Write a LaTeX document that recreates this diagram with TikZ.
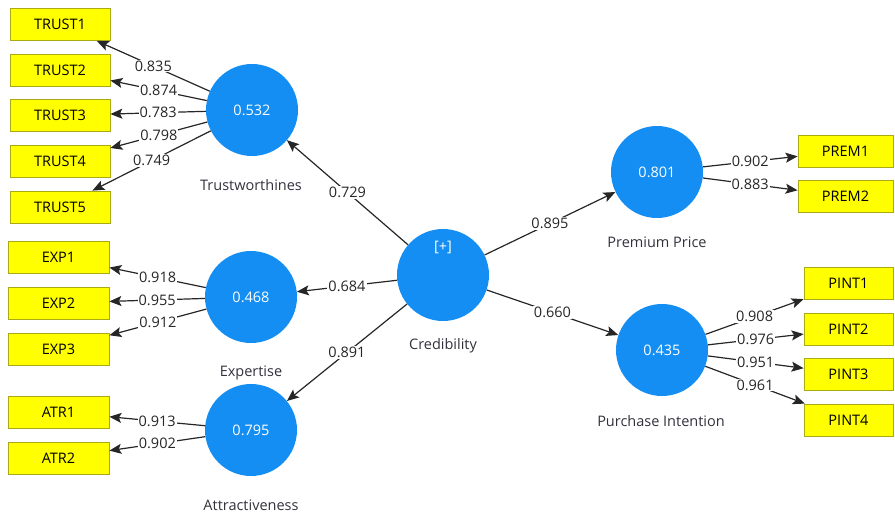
\documentclass[tikz,border=0pt]{standalone}
\usepackage{fontspec}
\setmainfont{Open Sans}
\usetikzlibrary{arrows.meta}
\definecolor{lvblue}{RGB}{20,142,242}
\definecolor{boxyellow}{RGB}{255,255,0}
\definecolor{boxborder}{RGB}{170,170,20}
\definecolor{lbl}{RGB}{50,50,60}
\begin{document}
\begin{tikzpicture}[x=1pt,y=-1pt,
  font=\fontsize{14.5}{16}\selectfont,
  lv/.style={circle,fill=lvblue,draw=none,minimum size=92pt,inner sep=0pt,text=white},
  ind/.style={rectangle,fill=boxyellow,draw=boxborder,line width=0.8pt,minimum height=32pt,inner sep=0pt,text=black},
  conn/.style={draw=black!85,line width=1.2pt,-{Stealth[length=12pt,width=10pt,inset=2.5pt]}},
  wt/.style={fill=white,inner sep=1pt,text=black!85},
  lvcap/.style={text=lbl}]
\useasboundingbox (0,0) rectangle (895,515);
% latent variables
\node[lv] (tru) at (252,110) {0.532};
\node[lv] (exp) at (251,297) {0.468};
\node[lv] (atr) at (251,430) {0.795};
\node[lv] (cre) at (443,275) {};
\node[lv] (pre) at (657,172) {0.801};
\node[lv] (pin) at (662,350) {0.435};
\node[text=white] (plus) at (443,247) {[+]};
% captions
\node[lvcap] (ctru) at (251,185) {Trustworthines};
\node[lvcap] (cexp) at (251,373) {Expertise};
\node[lvcap] (catr) at (251,505) {Attractiveness};
\node[lvcap] (ccre) at (443,346) {Credibility};
\node[lvcap] (cpre) at (657,242) {Premium Price};
\node[lvcap] (cpin) at (661,421) {Purchase Intention};
% indicators
\node[ind,minimum width=100pt] (t1) at (60,24.5) {TRUST1};
\node[ind,minimum width=100pt] (t2) at (60,70) {TRUST2};
\node[ind,minimum width=100pt] (t3) at (60,115.5) {TRUST3};
\node[ind,minimum width=100pt] (t4) at (60,161.5) {TRUST4};
\node[ind,minimum width=100pt] (t5) at (60,207) {TRUST5};
\node[ind,minimum width=101pt] (e1) at (58.5,257) {EXP1};
\node[ind,minimum width=101pt] (e2) at (58.5,303) {EXP2};
\node[ind,minimum width=101pt] (e3) at (58.5,349) {EXP3};
\node[ind,minimum width=101pt] (a1) at (58.5,412) {ATR1};
\node[ind,minimum width=101pt] (a2) at (58.5,458) {ATR2};
\node[ind,minimum width=95pt] (p1) at (845.5,151) {PREM1};
\node[ind,minimum width=95pt] (p2) at (845.5,196.5) {PREM2};
\node[ind,minimum width=89pt] (q1) at (848.5,283) {PINT1};
\node[ind,minimum width=89pt] (q2) at (848.5,329) {PINT2};
\node[ind,minimum width=89pt] (q3) at (848.5,374) {PINT3};
\node[ind,minimum width=89pt] (q4) at (848.5,420) {PINT4};
% structural paths
\draw[conn] (cre) -- node[wt] {0.729} (tru);
\draw[conn] (cre) -- node[wt] {0.684} (exp);
\draw[conn] (cre) -- node[wt] {0.891} (atr);
\draw[conn] (cre) -- node[wt] {0.895} (pre);
\draw[conn] (cre) -- node[wt] {0.660} (pin);
% loadings
\draw[conn] (tru) -- node[wt] {0.835} (t1);
\draw[conn] (tru) -- node[wt] {0.874} (t2);
\draw[conn] (tru) -- node[wt] {0.783} (t3);
\draw[conn] (tru) -- node[wt] {0.798} (t4);
\draw[conn] (tru) -- node[wt] {0.749} (t5);
\draw[conn] (exp) -- node[wt] {0.918} (e1);
\draw[conn] (exp) -- node[wt] {0.955} (e2);
\draw[conn] (exp) -- node[wt] {0.912} (e3);
\draw[conn] (atr) -- node[wt] {0.913} (a1);
\draw[conn] (atr) -- node[wt] {0.902} (a2);
\draw[conn] (pre) -- node[wt] {0.902} (p1);
\draw[conn] (pre) -- node[wt] {0.883} (p2);
\draw[conn] (pin) -- node[wt] {0.908} (q1);
\draw[conn] (pin) -- node[wt] {0.976} (q2);
\draw[conn] (pin) -- node[wt] {0.951} (q3);
\draw[conn] (pin) -- node[wt] {0.961} (q4);
\end{tikzpicture}
\end{document}
